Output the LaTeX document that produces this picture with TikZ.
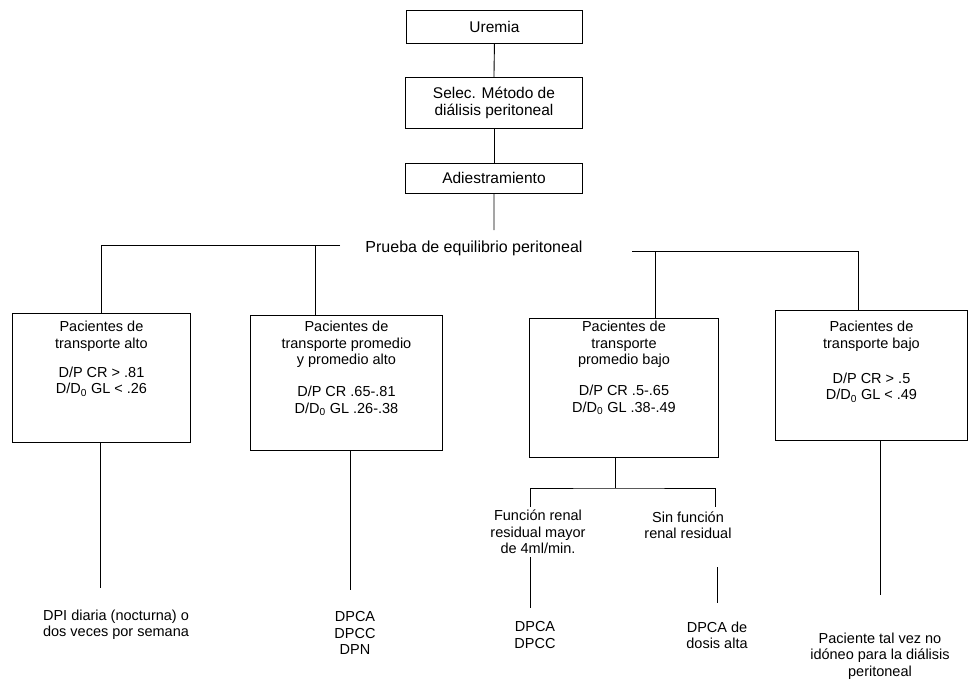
\documentclass[tikz,border=0pt]{standalone}
\usepackage{fontspec}
\setmainfont{Liberation Sans}
\begin{document}
\begin{tikzpicture}[x=1pt,y=-1pt,
  line width=0.9pt,
  box/.style={draw, line width=0.9pt, inner sep=0pt, anchor=north west},
  topbox/.style={box, align=center, font={\fontsize{15.5}{17.5}\selectfont}},
  boxtxt/.style={inner sep=0pt, align=center, anchor=north, font={\fontsize{14.5}{16.3}\selectfont}},
  leaf/.style={inner sep=0pt, align=center, font={\fontsize{14.5}{16.3}\selectfont}},
  conn/.style={draw, line width=0.9pt}
]
\useasboundingbox (0,0) rectangle (975,681);

% top chain
\node[topbox, minimum width=176pt, minimum height=33pt] (ure) at (406,10) {Uremia};
\node[topbox, minimum width=177pt, minimum height=51pt] (sel) at (405,77) {Selec. Método de\\diálisis peritoneal};
\node[topbox, minimum width=177pt, minimum height=30pt] (adi) at (405,163) {Adiestramiento};
\draw[conn] (ure.south) -- (sel.north);
\draw[conn] (sel.south) -- (adi.north);
\coordinate (pj) at (494,230);
\draw[conn] (adi.south) -- (pj);
\node[leaf, font={\fontsize{16}{18}\selectfont}] (prb) at (474,248) {Prueba de equilibrio peritoneal};

% four boxes
\node[box, minimum width=178pt, minimum height=129pt] (b1) at (12,313) {};
\node[box, minimum width=192pt, minimum height=135pt] (b2) at (250,315) {};
\node[box, minimum width=189pt, minimum height=139pt] (b3) at (529,318) {};
\node[box, minimum width=192pt, minimum height=130pt] (b4) at (775,310) {};

\node[boxtxt] (b1t) at ([yshift=-8pt]b1.north) {Pacientes de\\transporte alto\\[13pt]D/P CR > .81\\D/D\textsubscript{0} GL < .26};
\node[boxtxt] (b2t) at ([yshift=-6pt]b2.north) {Pacientes de\\transporte promedio\\y promedio alto\\[16pt]D/P CR .65-.81\\D/D\textsubscript{0} GL .26-.38};
\node[boxtxt] (b3t) at ([yshift=-3pt]b3.north) {Pacientes de\\transporte\\promedio bajo\\[15pt]D/P CR .5-.65\\D/D\textsubscript{0} GL .38-.49};
\node[boxtxt] (b4t) at ([yshift=-11pt]b4.north) {Pacientes de\\transporte bajo\\[19pt]D/P CR > .5\\D/D\textsubscript{0} GL < .49};

% branching from Prueba
\coordinate (hlL) at (340,245);
\coordinate (j2) at (315,245);
\draw[conn] (hlL) -| (b1.north);
\draw[conn] (j2) -- (j2 |- b2.north);
\coordinate (hlR) at (632,251);
\coordinate (j3) at (655,251);
\coordinate (j4) at (858,251);
\draw[conn] (hlR) -- (j4) -- (j4 |- b4.north);
\draw[conn] (j3) -- (j3 |- b3.north);

% below box 1
\coordinate (e1) at (100,588);
\draw[conn] (e1 |- b1.south) -- (e1);
\node[leaf] (l1) at (116,625) {DPI diaria (nocturna) o\\dos veces por semana};

% below box 2
\coordinate (e2) at (350,590);
\draw[conn] (e2 |- b2.south) -- (e2);
\node[leaf] (l2) at (355,633) {DPCA\\DPCC\\DPN};

% below box 3
\coordinate (s3) at (615,488);
\coordinate (s3L) at (530,507);
\coordinate (s3R) at (715,507);
\draw[conn] (s3 |- b3.south) -- (s3);
\draw[conn] (s3L) |- (s3) -| (s3R);
\node[leaf] (f1) at (538,532) {Función renal\\residual mayor\\de 4ml/min.};
\node[leaf] (f2) at (688,525) {Sin función\\renal residual};
\coordinate (v1a) at (530,557);
\coordinate (v1b) at (530,608);
\draw[conn] (v1a) -- (v1b);
\coordinate (v2a) at (717,567);
\coordinate (v2b) at (717,603);
\draw[conn] (v2a) -- (v2b);
\node[leaf] (d1) at (535,635) {DPCA\\DPCC};
\node[leaf] (d2) at (717,635) {DPCA de\\dosis alta};

% below box 4
\coordinate (e4) at (880,595);
\draw[conn] (e4 |- b4.south) -- (e4);
\node[leaf] (l4) at (880,656) {Paciente tal vez no\\idóneo para la diálisis\\peritoneal};
\end{tikzpicture}
\end{document}
